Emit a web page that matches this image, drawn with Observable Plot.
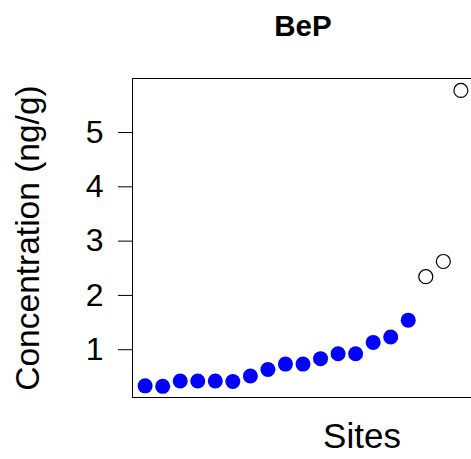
<!DOCTYPE html>
<html><head>
<meta charset="utf-8">
<script src="https://cdn.jsdelivr.net/npm/d3@7"></script>
<script src="https://cdn.jsdelivr.net/npm/@observablehq/plot@0.6"></script>
<style>body{margin:0;background:#fff}#chart svg{display:block}</style>
</head><body><div id="chart"></div>
<script>
const sites = [1,2,3,4,5,6,7,8,9,10,11,12,13,14,15,16,17,18,19];
const concentration = [0.28,0.27,0.37,0.37,0.37,0.36,0.46,0.58,0.68,0.68,0.78,0.87,0.87,1.08,1.18,1.49,2.29,2.57,5.72];
const outlier = [false,false,false,false,false,false,false,false,false,false,false,false,false,false,false,false,true,true,true];
const yTicks = [1,2,3,4,5];
const yTickLabels = ["1","2","3","4","5"];
const titleText = "BeP";
const xLabel = "Sites";
const yLabel = "Concentration (ng/g)";

const data = sites.map((s, i) => ({site: s, value: concentration[i], outlier: outlier[i]}));
const normal = data.filter(d => !d.outlier);
const flagged = data.filter(d => d.outlier);

const font = "'Liberation Sans', Arial, sans-serif";
const chart = Plot.plot({
  width: 471,
  height: 459,
  marginLeft: 132,
  marginRight: -2,
  marginTop: 78,
  marginBottom: 62,
  style: {fontFamily: font, fontSize: "32px", background: "#fff", color: "#000", overflow: "visible"},
  x: {domain: [0.28, 19.72], axis: null},
  y: {domain: [0.065, 5.94]},
  marks: [
    Plot.frame({stroke: "#000", strokeWidth: 1}),
    Plot.axisY({ticks: yTicks, tickFormat: (d) => yTickLabels[yTicks.indexOf(d)], tickSize: 14, tickPadding: 15, label: null, dy: 3, fontSize: 32}),
    Plot.dot(normal, {x: "site", y: "value", r: 7.5, fill: "#0000ff", stroke: "none"}),
    Plot.dot(flagged, {x: "site", y: "value", r: 7, fill: "none", stroke: "#000", strokeWidth: 1.2}),
    Plot.text([titleText], {frameAnchor: "top", lineAnchor: "bottom", dy: -43, fontSize: 29.5, fontWeight: "bold"}),
    Plot.text([xLabel], {frameAnchor: "bottom", lineAnchor: "bottom", dx: 59, dy: 50, fontSize: 35}),
    Plot.text([yLabel], {frameAnchor: "left", textAnchor: "middle", rotate: -90, dx: -104.6, fontSize: 33.5})
  ]
});
document.getElementById("chart").append(chart);
</script>
</body></html>
